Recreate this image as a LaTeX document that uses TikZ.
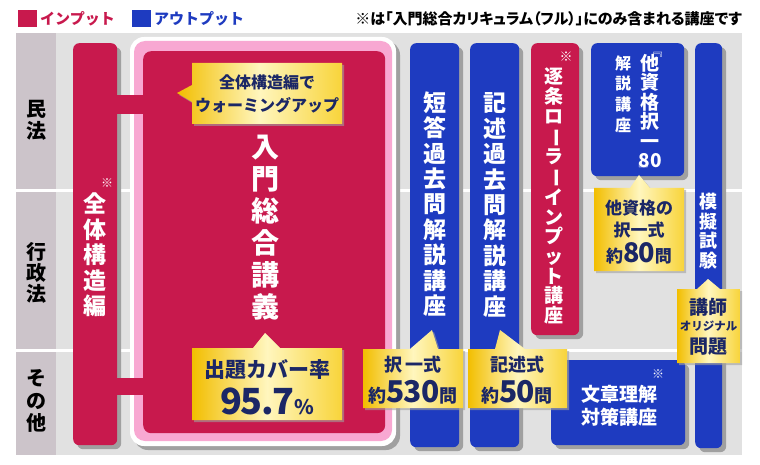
\documentclass[tikz,border=0pt]{standalone}
\usepackage{fontspec}
\setmainfont{Noto Sans CJK JP}
\newfontfamily\jpprop{Noto Sans CJK JP}[RawFeature=+palt]
\usepackage{graphicx}
\usetikzlibrary{shadows}
\definecolor{crim}{HTML}{C8194D}
\definecolor{blu}{HTML}{1E3BC0}
\definecolor{navy}{HTML}{1B2766}
\definecolor{bggray}{HTML}{E1E1E1}
\definecolor{labgray}{HTML}{CCC4CA}
\definecolor{ring}{HTML}{F8A8D2}
\definecolor{shd}{HTML}{A0A0A0}
\definecolor{goldA}{HTML}{F2BE00}
\definecolor{goldB}{HTML}{FFF6BE}
\definecolor{goldC}{HTML}{F8D43A}
\newcommand{\fs}[2]{\fontsize{#1}{#2}\selectfont}
\newcommand{\vbar}{\rotatebox[origin=c]{-90}{ー}}
\tikzset{
  boxshadow/.style={drop shadow={shadow xshift=4pt, shadow yshift=-4pt, fill=shd, opacity=1}},
  colbox/.style={boxshadow, rounded corners=6pt, inner sep=0, anchor=north west},
  vtext/.style={text=white, align=center, inner sep=0},
  ctext/.style={text=navy, align=center, inner sep=0},
  callout/.style={left color=goldA, right color=goldC, middle color=goldB,
     drop shadow={shadow xshift=2pt, shadow yshift=-2pt, fill=shd, opacity=.6}},
  rowlab/.style={text=black, align=center, inner sep=0},
}
\begin{document}
\begin{tikzpicture}[x=1pt,y=-1pt,font=\bfseries]
\useasboundingbox (0,0) rectangle (760,465);
\fill[white] (0,0) rectangle (760,465);

% legend
\node[fill=crim, minimum width=19pt, minimum height=17pt, inner sep=0, anchor=north west] (lgpink) at (18,10) {};
\node[anchor=west, text=crim, font=\fs{15}{15}\bfseries, inner sep=0] (lgin) at (40,18.5) {インプット};
\node[fill=blu, minimum width=19pt, minimum height=17pt, inner sep=0, anchor=north west] (lgblue) at (132,10) {};
\node[anchor=west, text=blu, font=\fs{15}{15}\bfseries, inner sep=0] (lgout) at (154,18.5) {アウトプット};
\node[anchor=east, text=black, font=\jpprop\fs{15}{15}\bfseries, inner sep=0] (note) at (742,18.5) {※は「入門総合カリキュラム（フル）」にのみ含まれる講座です};

% background grid
\fill[bggray] (16,33) rectangle (742,455);
\fill[labgray] (16,33) rectangle (56,455);
\fill[white] (16,189.5) rectangle (742,192.5);
\fill[white] (16,348.5) rectangle (742,351.5);

\node[rowlab, font=\fs{20}{22}\bfseries] (rminpo) at (36,120) {民\\法};
\node[rowlab, font=\fs{20}{21}\bfseries] (rgyosei) at (36,273) {行\\政\\法};
\node[rowlab, font=\fs{20}{22.5}\bfseries] (rsonota) at (36,401) {そ\\の\\他};

% big block
\fill[white, boxshadow, rounded corners=14pt] (130,37) rectangle (396,446);
\fill[ring, rounded corners=11pt] (134,41) rectangle (392,441);
\node[fill=crim, rounded corners=8pt, inner sep=0, anchor=north west, minimum width=242pt, minimum height=382pt] (nyumon) at (143,51) {};

% left column
\node[colbox, fill=crim, minimum width=44pt, minimum height=402pt] (zentai) at (73,43) {};
\node[vtext, font=\fs{23}{25.5}\bfseries] (zentaiT) at (95,255) {全\\体\\構\\造\\編};
\node[text=white, font=\fs{12}{12}\mdseries, inner sep=0] (zentaiM) at (107,183) {※};

% connectors
\fill[crim] (zentai.east |- 0,95) rectangle (nyumon.west |- 0,114);
\fill[crim] (zentai.east |- 0,378) rectangle (nyumon.west |- 0,395);

% main title
\node[vtext, font=\fs{28}{32}\bfseries] (nyumonT) at (265,228) {入\\門\\総\\合\\講\\義};

% blue/pink columns
\node[colbox, fill=blu, minimum width=49pt, minimum height=404pt] (tanto) at (410,43) {};
\node[vtext, font=\fs{23}{25.4}\bfseries] (tantoT) at (434.5,204) {短\\答\\過\\去\\問\\解\\説\\講\\座};
\node[colbox, fill=blu, minimum width=49pt, minimum height=404pt] (kijutsu) at (470,43) {};
\node[vtext, font=\fs{23}{25.4}\bfseries] (kijutsuT) at (494.5,205) {記\\述\\過\\去\\問\\解\\説\\講\\座};
\node[colbox, fill=crim, minimum width=48pt, minimum height=292pt] (chikujo) at (531,43) {};
\node[text=white, font=\fs{13}{13}\mdseries, inner sep=0] (chikujoM) at (566,57) {※};
\node[vtext, font=\fs{19}{19.6}\bfseries] (chikujoT) at (554,196) {逐\\条\\ロ\\\vbar\\ラ\\\vbar\\イ\\ン\\プ\\ッ\\ト\\講\\座};
\node[colbox, fill=blu, minimum width=93pt, minimum height=133pt] (takaku) at (591,43) {};
\node[vtext, font=\fs{19}{19.5}\bfseries] (takakuT) at (650,111) {他\\資\\格\\択\\一\\80};
\node[text=white, font=\fs{13}{13}\mdseries, inner sep=0] (takakuB1) at (657,51) {\rotatebox[origin=c]{-90}{『}};
\node[text=white, font=\fs{13}{13}\mdseries, inner sep=0] (takakuB2) at (644,169) {\rotatebox[origin=c]{-90}{』}};
\node[vtext, font=\fs{16}{20.7}\bfseries] (takakuL) at (623,94) {解\\説\\講\\座};
\node[colbox, fill=blu, minimum width=27pt, minimum height=405pt] (mogi) at (695,43) {};
\node[vtext, font=\fs{18}{19.5}\bfseries] (mogiT) at (708.5,231) {模\\擬\\試\\験};
\node[colbox, fill=blu, minimum width=134pt, minimum height=85pt] (bunsho) at (551,360) {};
\node[vtext, font=\fs{19}{23}\bfseries] (bunshoT) at (619,406) {文章理解\\対策講座};
\node[text=white, font=\fs{12}{12}\mdseries, inner sep=0] (bunshoM) at (658,374) {※};

% callouts
\path[callout] (192,63) -- (342,63) -- (342,124) -- (192,124) -- (192,102) -- (177,93) -- (192,85) -- cycle;
\node[ctext, font=\fs{16}{23}\bfseries] (c1) at (267,94) {全体構造編で\\ウォーミングアップ};

\path[callout] (192,348) -- (253,348) -- (265,333) -- (280,348) -- (342,348) -- (342,420) -- (192,420) -- cycle;
\node[ctext, font=\fs{21}{21}\bfseries] (c2a) at (267,370) {出題カバー率};
\node[ctext] (c2b) at (267,401) {{\fs{36}{36}\bfseries 9\kern-1.5pt5\kern-1.5pt.\kern-1.5pt7}{\fs{20}{20}\bfseries\%}};

\path[callout] (363,349) -- (410,349) -- (432,330) -- (438,349) -- (463,349) -- (463,408) -- (363,408) -- cycle;
\node[ctext, font=\fs{18}{18}\bfseries] (c3a) at (413,365) {択\,一式};
\node[ctext] (c3b) at (413,392) {{\fs{18}{18}\bfseries 約}{\fs{30}{30}\bfseries 5\kern-1pt3\kern-1pt0}{\fs{18}{18}\bfseries 問}};

\path[callout] (468,349) -- (495,349) -- (500,330) -- (525,349) -- (567,349) -- (567,408) -- (468,408) -- cycle;
\node[ctext, font=\fs{18}{18}\bfseries] (c4a) at (517,365) {記述式};
\node[ctext] (c4b) at (517,392) {{\fs{18}{18}\bfseries 約}{\fs{30}{30}\bfseries 5\kern-1pt0}{\fs{18}{18}\bfseries 問}};

\path[callout] (594,188) -- (630,188) -- (639,175) -- (650,188) -- (684,188) -- (684,271) -- (594,271) -- cycle;
\node[ctext, font=\fs{17}{17}\bfseries] (c5a) at (639,208) {他資格の};
\node[ctext, font=\fs{17}{17}\bfseries] (c5b) at (639,230) {択一式};
\node[ctext] (c5c) at (639,253) {{\fs{17}{17}\bfseries 約}{\fs{27}{27}\bfseries 8\kern-1pt0}{\fs{17}{17}\bfseries 問}};

\path[callout] (677,289) -- (697,289) -- (708,279) -- (720,289) -- (740,289) -- (740,363) -- (677,363) -- cycle;
\node[ctext, font=\fs{19}{19}\bfseries] (c6a) at (708.5,307) {講師};
\node[ctext, font=\fs{11.5}{11.5}\bfseries] (c6b) at (708.5,326) {オリジナル};
\node[ctext, font=\fs{19}{19}\bfseries] (c6c) at (708.5,347) {問題};
\end{tikzpicture}
\end{document}
